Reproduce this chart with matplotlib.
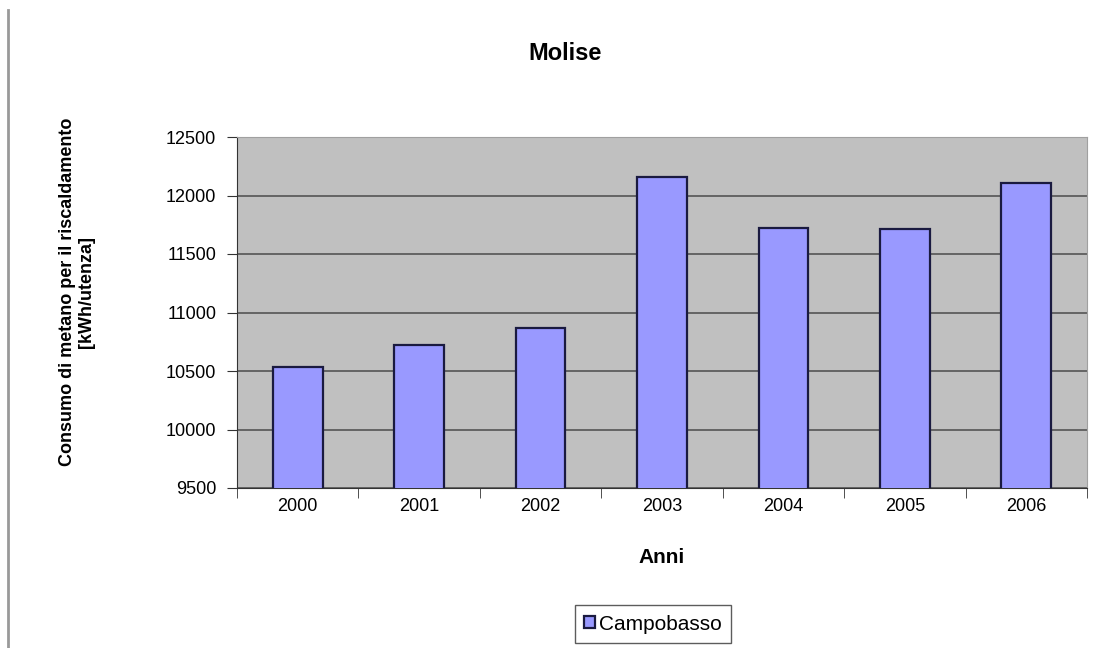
import numpy as np
import matplotlib.pyplot as plt
from matplotlib.lines import Line2D

plt.rcParams['font.family'] = ['Liberation Sans', 'DejaVu Sans']

anni = ['2000', '2001', '2002', '2003', '2004', '2005', '2006']
campobasso = [10530, 10725, 10870, 12155, 11720, 11715, 12105]
y_ticks = [9500, 10000, 10500, 11000, 11500, 12000, 12500]

fig = plt.figure(figsize=(10.96, 6.48), dpi=100)
ax = fig.add_axes([237 / 1096, 1 - 488 / 648, 850 / 1096, 351 / 648])

ax.set_facecolor('#c0c0c0')
x = np.arange(len(anni))
ax.bar(x, campobasso, width=0.41, color='#9999ff',
       edgecolor='#1a1a40', linewidth=1.6, zorder=3, label='Campobasso')

ax.set_ylim(9500, 12500)
ax.set_xlim(-0.5, len(anni) - 0.5)
ax.set_yticks(y_ticks)
ax.set_xticks(x)
ax.set_xticklabels(anni)
# category boundary ticks, as in Excel
ax.set_xticks(np.arange(len(anni) + 1) - 0.5, minor=True)
ax.tick_params(axis='x', which='major', length=0, pad=7, labelsize=13)
ax.tick_params(axis='x', which='minor', length=7, color='#333333')
ax.tick_params(axis='y', length=7, pad=8, labelsize=13, color='#333333')
ax.yaxis.grid(True, color='#555555', linewidth=1.2, zorder=1)
for s in ['top', 'right']:
    ax.spines[s].set_color('#a0a0a0')
for s in ['left', 'bottom']:
    ax.spines[s].set_color('#333333')

ax.set_xlabel('Anni', fontsize=15, fontweight='bold', labelpad=24)
fig.text(565 / 1096, 1 - 54 / 648, 'Molise', ha='center', va='center',
         fontsize=17, fontweight='bold')
fig.text(77 / 1096, 1 - 292 / 648,
         'Consumo di metano per il riscaldamento\n[kWh/utenza]',
         rotation=90, ha='center', va='center', fontsize=13,
         fontweight='bold', linespacing=1.1)

ax.legend(loc='center', bbox_to_anchor=(653 / 1096, 1 - 624 / 648),
          bbox_transform=fig.transFigure, fontsize=15, frameon=True,
          fancybox=False, edgecolor='#333333', handlelength=0.5,
          handleheight=0.5, handletextpad=0.2, borderpad=0.45,
          borderaxespad=0)

# left border line of the chart area
fig.add_artist(Line2D([8 / 1096, 8 / 1096], [0, 1 - 10 / 648],
                      transform=fig.transFigure, color='#999999', linewidth=2))

fig.savefig('out.png', dpi=100)
